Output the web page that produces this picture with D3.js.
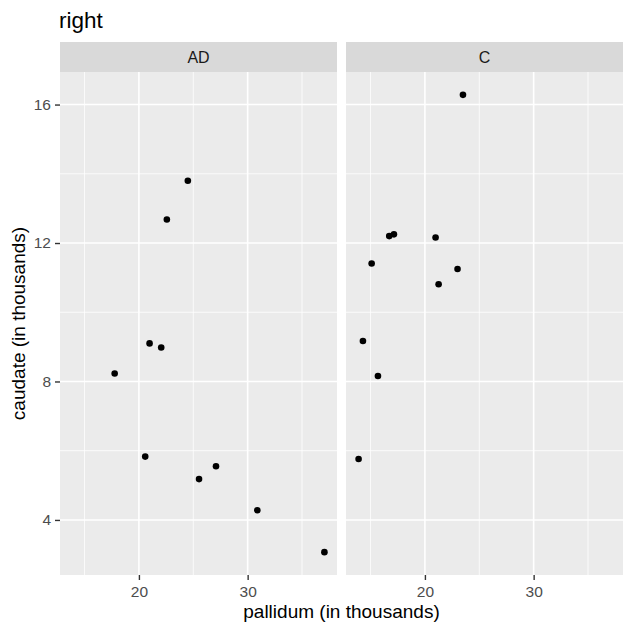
<!DOCTYPE html>
<html>
<head>
  <meta charset="utf-8">
  <title>right</title>
  <script src="https://d3js.org/d3.v7.min.js"></script>
  <style>
    body { margin: 0; background: #fff; }
    text { font-family: "Liberation Sans", Arial, sans-serif; }
  </style>
</head>
<body>
  <script>
    const facets = ["AD", "C"]
    const adPallidum = [24.5, 22.57, 20.98, 22.05, 17.77, 20.58, 25.53, 27.09, 30.89, 37.06]
    const adCaudate = [13.80, 12.68, 9.10, 8.98, 8.23, 5.83, 5.18, 5.55, 4.28, 3.07]
    const cPallidum = [23.50, 16.72, 17.15, 20.98, 15.10, 23.0, 21.26, 14.30, 15.68, 13.9]
    const cCaudate = [16.28, 12.20, 12.25, 12.16, 11.41, 11.25, 10.81, 9.17, 8.16, 5.76]
    const xTicks = [20, 30]
    const xMinor = [15, 25, 35]
    const yTicks = [4, 8, 12, 16]
    const yMinor = [6, 10, 14]

    const width = 636, height = 629
    const panels = [
      { name: facets[0], x: adPallidum, y: adCaudate, left: 60, right: 337 },
      { name: facets[1], x: cPallidum, y: cCaudate, left: 346, right: 623 }
    ]
    const stripTop = 42, panelTop = 72, panelBottom = 575

    // ggplot-style 5% expansion
    const expand = (ext) => {
      const w = ext[1] - ext[0]
      return [ext[0] - 0.05 * w, ext[1] + 0.05 * w]
    }
    const xDomain = expand(d3.extent(adPallidum.concat(cPallidum)))
    const yDomain = expand(d3.extent(adCaudate.concat(cCaudate)))

    const yScale = d3.scaleLinear().domain(yDomain).range([panelBottom, panelTop])

    const svg = d3.select('body').append('svg')
      .attr('width', width).attr('height', height)

    svg.append('text')
      .attr('x', 59).attr('y', 28)
      .attr('font-size', 22.5).attr('fill', '#000')
      .text('right')

    panels.forEach((p) => {
      const xScale = d3.scaleLinear().domain(xDomain).range([p.left, p.right])
      const g = svg.append('g')

      g.append('rect')
        .attr('x', p.left).attr('y', panelTop)
        .attr('width', p.right - p.left).attr('height', panelBottom - panelTop)
        .attr('fill', '#ebebeb')

      // minor grid
      g.selectAll('.xminor').data(xMinor).enter().append('line')
        .attr('x1', d => xScale(d)).attr('x2', d => xScale(d))
        .attr('y1', panelTop).attr('y2', panelBottom)
        .attr('stroke', '#fff').attr('stroke-width', 0.8)
      g.selectAll('.yminor').data(yMinor).enter().append('line')
        .attr('y1', d => yScale(d)).attr('y2', d => yScale(d))
        .attr('x1', p.left).attr('x2', p.right)
        .attr('stroke', '#fff').attr('stroke-width', 0.8)
      // major grid
      g.selectAll('.xmajor').data(xTicks).enter().append('line')
        .attr('x1', d => xScale(d)).attr('x2', d => xScale(d))
        .attr('y1', panelTop).attr('y2', panelBottom)
        .attr('stroke', '#fff').attr('stroke-width', 1.6)
      g.selectAll('.ymajor').data(yTicks).enter().append('line')
        .attr('y1', d => yScale(d)).attr('y2', d => yScale(d))
        .attr('x1', p.left).attr('x2', p.right)
        .attr('stroke', '#fff').attr('stroke-width', 1.6)

      // strip
      g.append('rect')
        .attr('x', p.left).attr('y', stripTop)
        .attr('width', p.right - p.left).attr('height', panelTop - stripTop)
        .attr('fill', '#d9d9d9')
      g.append('text')
        .attr('x', (p.left + p.right) / 2).attr('y', (stripTop + panelTop) / 2)
        .attr('dy', '0.36em').attr('text-anchor', 'middle')
        .attr('font-size', 16).attr('fill', '#1a1a1a')
        .text(p.name)

      // points
      g.selectAll('circle').data(p.x).enter().append('circle')
        .attr('cx', d => xScale(d))
        .attr('cy', (d, i) => yScale(p.y[i]))
        .attr('r', 3.3).attr('fill', '#000')

      // x axis
      const xAxis = d3.axisBottom(xScale).tickValues(xTicks).tickSize(5).tickPadding(6)
      const ax = g.append('g')
        .attr('transform', `translate(0,${panelBottom})`)
        .call(xAxis)
      ax.select('.domain').remove()
      ax.selectAll('line').attr('stroke', '#333').attr('stroke-width', 1.4)
      ax.selectAll('text').attr('font-size', 15.5).attr('fill', '#4d4d4d')
        .attr('font-family', '"Liberation Sans", Arial, sans-serif')
    })

    const yAxis = d3.axisLeft(yScale).tickValues(yTicks).tickSize(5).tickPadding(4)
    const ay = svg.append('g')
      .attr('transform', `translate(60,0)`)
      .call(yAxis)
    ay.select('.domain').remove()
    ay.selectAll('line').attr('stroke', '#333').attr('stroke-width', 1.4)
    ay.selectAll('text').attr('font-size', 15.5).attr('fill', '#4d4d4d')
      .attr('font-family', '"Liberation Sans", Arial, sans-serif')

    svg.append('text')
      .attr('x', (60 + 623) / 2).attr('y', 618)
      .attr('text-anchor', 'middle').attr('font-size', 19).attr('fill', '#000')
      .text('pallidum (in thousands)')

    svg.append('text')
      .attr('transform', `translate(25,${(panelTop + panelBottom) / 2}) rotate(-90)`)
      .attr('text-anchor', 'middle').attr('font-size', 19).attr('fill', '#000')
      .text('caudate (in thousands)')
  </script>
</body>
</html>
